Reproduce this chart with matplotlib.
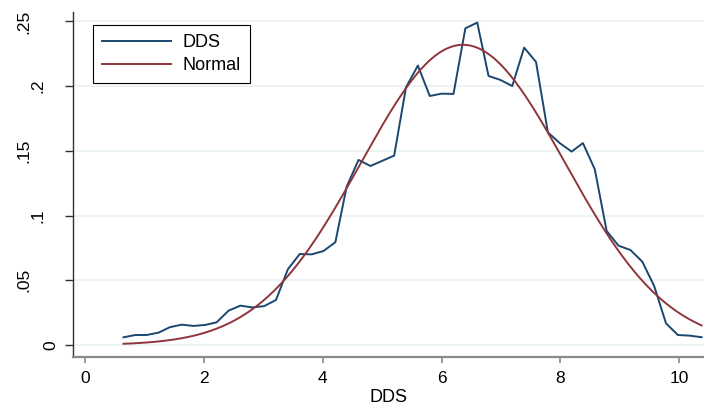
import numpy as np
import matplotlib.pyplot as plt
from matplotlib.transforms import blended_transform_factory, ScaledTranslation

plt.rcParams['font.family'] = ['Liberation Sans', 'DejaVu Sans']

# DDS density values
dds_x = [0.64, 0.84, 1.03, 1.23, 1.42, 1.62, 1.82, 2.02, 2.21, 2.41,
         2.61, 2.81, 3.01, 3.21, 3.41, 3.61, 3.81, 4.01, 4.21, 4.40,
         4.60, 4.80, 5.00, 5.20, 5.40, 5.60, 5.80, 6.00, 6.20, 6.40,
         6.60, 6.79, 6.99, 7.19, 7.39, 7.59, 7.79, 7.99, 8.19, 8.38,
         8.58, 8.78, 8.98, 9.18, 9.38, 9.58, 9.78, 9.98, 10.18, 10.38]
dds_y = [0.0059, 0.0077, 0.0077, 0.0095, 0.0137, 0.0157, 0.0147, 0.0155, 0.0175, 0.0265,
         0.0304, 0.0290, 0.0300, 0.0348, 0.0585, 0.0703, 0.0700, 0.0726, 0.0794, 0.1223,
         0.1430, 0.1383, 0.1423, 0.1463, 0.1991, 0.2159, 0.1924, 0.1942, 0.1940, 0.2447,
         0.2491, 0.2079, 0.2048, 0.2001, 0.2298, 0.2187, 0.1643, 0.1560, 0.1494, 0.1560,
         0.1358, 0.0881, 0.0767, 0.0734, 0.0644, 0.0456, 0.0167, 0.0077, 0.0072, 0.0060]

# fitted normal
mu, sigma = 6.36, 1.72

yticks = [0, 0.05, 0.1, 0.15, 0.2, 0.25]
ytick_labels = ['0', '.05', '.1', '.15', '.2', '.25']
xticks = [0, 2, 4, 6, 8, 10]

navy = '#1a476f'
maroon = '#90353b'

fig = plt.figure(figsize=(7.04, 4.11), dpi=100)
ax = fig.add_axes([73 / 704, 54 / 411, 631 / 704, 345 / 411])

xn = np.linspace(dds_x[0], dds_x[-1], 200)
yn = np.exp(-0.5 * ((xn - mu) / sigma) ** 2) / (sigma * np.sqrt(2 * np.pi))

for t in yticks:
    ax.axhline(t, color='#eaf2f3', lw=1.3, zorder=0)

ax.plot(dds_x, dds_y, color=navy, lw=1.4, label='DDS')
ax.plot(xn, yn, color=maroon, lw=1.4, label='Normal')

ax.set_xlim(-0.21, 10.42)
ax.set_ylim(-0.0093, 0.2573)
ax.set_xticks(xticks)
ax.set_yticks(yticks)
ax.set_yticklabels([])
ax.tick_params(axis='x', labelsize=12.5, length=4, width=1.2, color='#8a8a8a', pad=6)
ax.tick_params(axis='y', length=6, width=1.0, color='#303030')
ax.set_xlabel('DDS', fontsize=13, labelpad=2)

# rotated y labels, shifted left by their length the way Stata draws them here
trans = blended_transform_factory(ax.transAxes, ax.transData)
for t, lab in zip(yticks, ytick_labels):
    dx = -(22 + 13.5 * (len(lab) - 1)) / 100
    ax.text(0, t, lab, rotation=90, ha='center', va='center', fontsize=12.5,
            transform=trans + ScaledTranslation(dx, 0, fig.dpi_scale_trans))

for s in ['top', 'right']:
    ax.spines[s].set_visible(False)
ax.spines['left'].set_color('#303030')
ax.spines['left'].set_linewidth(1.0)
ax.spines['bottom'].set_color('#8a8a8a')
ax.spines['bottom'].set_linewidth(1.6)

leg = ax.legend(loc='upper left', bbox_to_anchor=(0.0317, 0.962), borderaxespad=0,
                fontsize=13, fancybox=False, edgecolor='black', framealpha=1,
                handlelength=3.8, handletextpad=0.65, borderpad=0.5, labelspacing=0.35)
leg.get_frame().set_linewidth(0.8)

fig.savefig('out.png', dpi=100)
